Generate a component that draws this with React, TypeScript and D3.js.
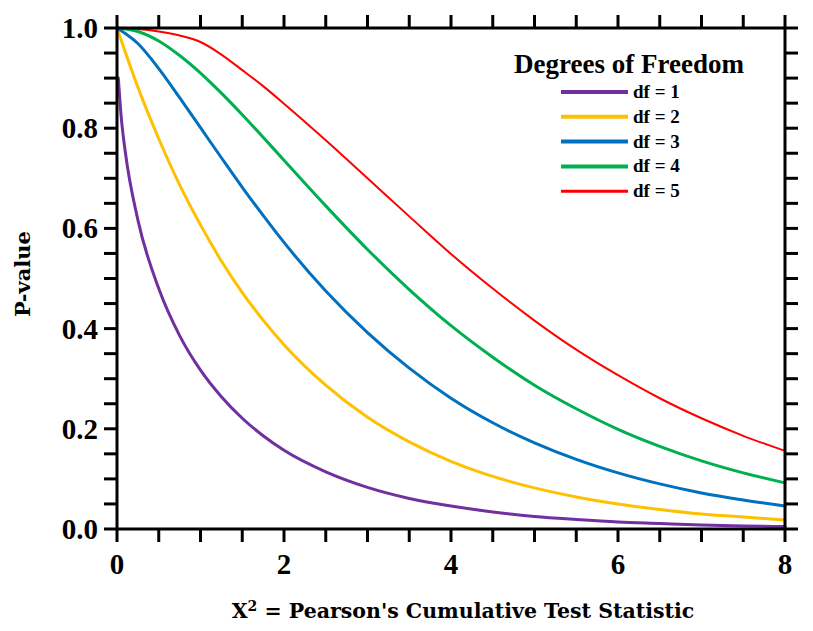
import React from "react";
import * as d3 from "d3";

// Chi-square statistic sample points and the matching upper-tail p-values per df
const xGrid = [0, 0.25, 0.5, 0.75, 1, 1.25, 1.5, 1.75, 2, 2.5, 3, 3.5, 4, 4.5, 5, 5.5, 6, 6.5, 7, 7.5, 8];
const xGridDf1 = [0.016, 0.05, 0.1, 0.25, 0.5, 0.75, 1, 1.25, 1.5, 1.75, 2, 2.5, 3, 3.5, 4, 4.5, 5, 5.5, 6, 6.5, 7, 7.5, 8];

const pDf1 = [0.9, 0.823, 0.752, 0.617, 0.48, 0.386, 0.317, 0.264, 0.221, 0.186, 0.157, 0.114, 0.083, 0.061, 0.046, 0.034, 0.025, 0.019, 0.014, 0.011, 0.008, 0.006, 0.005];
const pDf2 = [1, 0.882, 0.779, 0.687, 0.607, 0.535, 0.472, 0.417, 0.368, 0.287, 0.223, 0.174, 0.135, 0.105, 0.082, 0.064, 0.05, 0.039, 0.03, 0.024, 0.018];
const pDf3 = [1, 0.969, 0.919, 0.861, 0.801, 0.741, 0.682, 0.626, 0.572, 0.475, 0.392, 0.321, 0.261, 0.212, 0.172, 0.139, 0.112, 0.09, 0.072, 0.058, 0.046];
const pDf4 = [1, 0.993, 0.974, 0.945, 0.91, 0.87, 0.827, 0.782, 0.736, 0.645, 0.558, 0.478, 0.406, 0.343, 0.287, 0.24, 0.199, 0.165, 0.136, 0.112, 0.092];
const pDf5 = [1, 0.998, 0.993, 0.985, 0.972, 0.947, 0.916, 0.884, 0.849, 0.776, 0.7, 0.624, 0.549, 0.48, 0.416, 0.358, 0.307, 0.261, 0.221, 0.186, 0.156];

const seriesLabels = ["df = 1", "df = 2", "df = 3", "df = 4", "df = 5"];
const seriesColors = ["#7030A0", "#FFC000", "#0070C0", "#00B050", "#FF0000"];
const seriesWidths = [3, 3, 3, 3, 2];

const xTickLabels = [0, 2, 4, 6, 8];
const yTickLabels = [0, 0.2, 0.4, 0.6, 0.8, 1.0];

const W = 813;
const H = 631;
const margin = { left: 117, right: 28, top: 28, bottom: 102 };

export default function App() {
  const x = d3.scaleLinear().domain([0, 8]).range([margin.left, W - margin.right]);
  const y = d3.scaleLinear().domain([0, 1]).range([H - margin.bottom, margin.top]);

  const series = [
    { xs: xGridDf1, ys: pDf1 },
    { xs: xGrid, ys: pDf2 },
    { xs: xGrid, ys: pDf3 },
    { xs: xGrid, ys: pDf4 },
    { xs: xGrid, ys: pDf5 },
  ];

  const line = d3
    .line<[number, number]>()
    .x((d) => x(d[0]))
    .y((d) => y(d[1]))
    .curve(d3.curveMonotoneX);

  const minorX = d3.range(0, 8.0001, 0.5);
  const minorY = d3.range(0, 1.0001, 0.05);
  const tickLen = 13;
  const axisW = 3;
  const x0 = x(0), x1 = x(8), y0 = y(0), y1 = y(1);
  const tickFont = "'Liberation Serif', 'Times New Roman', serif";
  const slabFont = "'DejaVu Serif', serif";

  return (
    <svg width={W} height={H} style={{ position: "absolute", left: 0, top: 0, background: "#fff" }}>
      <rect x={0} y={0} width={W} height={H} fill="#fff" />

      {/* curves */}
      <g fill="none" strokeLinejoin="round" strokeLinecap="round">
        {series.map((s, i) => (
          <path
            key={i}
            d={line(s.xs.map((v, j) => [v, s.ys[j]] as [number, number])) || ""}
            stroke={seriesColors[i]}
            strokeWidth={seriesWidths[i]}
          />
        ))}
      </g>

      {/* frame */}
      <g stroke="#000" strokeWidth={axisW} fill="none">
        <line x1={x0} y1={y0} x2={x1} y2={y0} />
        <line x1={x0} y1={y1} x2={x1} y2={y1} />
        <line x1={x0} y1={y0} x2={x0} y2={y1} />
        <line x1={x1} y1={y0} x2={x1} y2={y1} />
        {minorX.map((v) => (
          <g key={"xt" + v}>
            <line x1={x(v)} y1={y0} x2={x(v)} y2={y0 + tickLen} />
            <line x1={x(v)} y1={y1} x2={x(v)} y2={y1 - tickLen} />
          </g>
        ))}
        {minorY.map((v) => (
          <g key={"yt" + v}>
            <line x1={x0} y1={y(v)} x2={x0 - tickLen} y2={y(v)} />
            <line x1={x1} y1={y(v)} x2={x1 + tickLen} y2={y(v)} />
          </g>
        ))}
      </g>

      {/* tick labels */}
      <g fontFamily={tickFont} fontWeight="bold" fontSize={29} fill="#000">
        {xTickLabels.map((v) => (
          <text key={"xl" + v} x={x(v)} y={y0 + 45} textAnchor="middle">
            {v}
          </text>
        ))}
        {yTickLabels.map((v) => (
          <text key={"yl" + v} x={x0 - 19} y={y(v) + 10} textAnchor="end">
            {v.toFixed(1)}
          </text>
        ))}
      </g>

      {/* axis titles */}
      <text
        x={463}
        y={618}
        textAnchor="middle"
        fontFamily={slabFont}
        fontWeight="bold"
        fontSize={20.5}
      >
        X<tspan dy={-7} fontSize={14}>2</tspan>
        <tspan dy={7}> = Pearson's Cumulative Test Statistic</tspan>
      </text>
      <text
        transform={`translate(30, 274) rotate(-90)`}
        textAnchor="middle"
        fontFamily={slabFont}
        fontWeight="bold"
        fontSize={21}
      >
        P-value
      </text>

      {/* legend */}
      <g>
        <text x={629} y={73} textAnchor="middle" fontFamily={tickFont} fontWeight="bold" fontSize={27}>
          Degrees of Freedom
        </text>
        {seriesLabels.map((lab, i) => {
          const ly = 92 + i * 24.8;
          return (
            <g key={lab}>
              <line x1={561} x2={628} y1={ly} y2={ly} stroke={seriesColors[i]} strokeWidth={seriesWidths[i] + 1} />
              <text x={633} y={ly + 6} fontFamily={tickFont} fontWeight="bold" fontSize={19}>
                {lab}
              </text>
            </g>
          );
        })}
      </g>
    </svg>
  );
}
